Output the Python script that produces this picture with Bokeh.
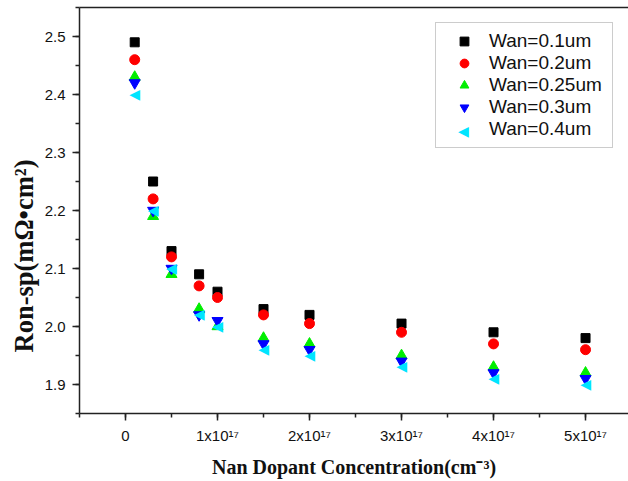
import math
from bokeh.plotting import figure
from bokeh.core.properties import value
from bokeh.models import (Range1d, SingleIntervalTicker, FixedTicker, LinearAxis, Title,
                          Legend, LegendItem, PrintfTickFormatter, Label)
from bokeh.embed import file_html
from bokeh.resources import INLINE

# Data
concentration = [1e16, 3e16, 5e16, 8e16, 1e17, 1.5e17, 2e17, 3e17, 4e17, 5e17]
series_names = ["Wan=0.1um", "Wan=0.2um", "Wan=0.25um", "Wan=0.3um", "Wan=0.4um"]
ron_01 = [2.49, 2.25, 2.13, 2.09, 2.06, 2.03, 2.02, 2.005, 1.99, 1.98]
ron_02 = [2.46, 2.22, 2.12, 2.07, 2.05, 2.02, 2.005, 1.99, 1.97, 1.96]
ron_025 = [2.43, 2.19, 2.09, 2.03, 2.00, 1.98, 1.97, 1.95, 1.93, 1.92]
ron_03 = [2.42, 2.20, 2.10, 2.02, 2.01, 1.97, 1.96, 1.94, 1.92, 1.91]
ron_04 = [2.40, 2.20, 2.10, 2.02, 2.00, 1.96, 1.95, 1.93, 1.91, 1.90]
x_tick_values = [0, 1e17, 2e17, 3e17, 4e17, 5e17]
x_tick_labels = ["0", "1x10¹⁷", "2x10¹⁷", "3x10¹⁷", "4x10¹⁷", "5x10¹⁷"]

p = figure(width=628, height=481, output_backend="svg", toolbar_location=None,
           x_range=Range1d(-0.5e17, 5.467e17), y_range=Range1d(1.85, 2.55),
           min_border_left=79, min_border_right=0, min_border_top=7, min_border_bottom=68,
           frame_width=549, frame_height=406)
p.outline_line_color = None
p.grid.visible = False
p.background_fill_color = "white"
p.border_fill_color = "white"

p.xaxis.ticker = SingleIntervalTicker(interval=1e17, num_minor_ticks=2)
p.xaxis.major_label_overrides = {v: l for v, l in zip(x_tick_values, x_tick_labels)}
p.yaxis.ticker = SingleIntervalTicker(interval=0.1, num_minor_ticks=2)
p.yaxis.formatter = PrintfTickFormatter(format="%.1f")

for ax in (p.xaxis[0], p.yaxis[0]):
    ax.axis_line_color = "#222222"
    ax.axis_line_width = 1.5
    ax.major_tick_line_color = "#222222"
    ax.minor_tick_line_color = "#222222"
    ax.major_tick_line_width = 1.5
    ax.minor_tick_line_width = 1.5
    ax.major_tick_out = 7
    ax.major_tick_in = 0
    ax.minor_tick_out = 4
    ax.minor_tick_in = 0
    ax.major_label_text_font = "Liberation Sans"
    ax.major_label_text_font_size = "15px"
    ax.major_label_text_color = "#111111"

p.xaxis.major_label_standoff = 6
p.yaxis.major_label_standoff = 7
p.xaxis.axis_label = "Nan Dopant Concentration(cm⁻³)"
p.xaxis.axis_label_text_font = "Liberation Serif"
p.xaxis.axis_label_text_font_style = "bold"
p.xaxis.axis_label_text_font_size = "20px"
p.xaxis.axis_label_text_color = "#111111"
p.xaxis.axis_label_standoff = 9

top_axis = LinearAxis(ticker=FixedTicker(ticks=[]), major_tick_line_color=None,
                      minor_tick_line_color=None, axis_line_color="#222222",
                      axis_line_width=1.5)
p.add_layout(top_axis, "above")

p.add_layout(Title(text="Ron-sp(mΩ•cm²)", align="left", offset=61,
                   text_font="Liberation Serif", text_font_style="bold",
                   text_font_size="26.5px", text_color="#111111", standoff=6), "left")

ys = [ron_01, ron_02, ron_025, ron_03]
markers = ["square", "circle", "triangle", "inverted_triangle"]
colors = ["#000000", "#ff0000", "#00ee00", "#0000ff"]
sizes = [9, 10, 11, 11]
items = []
for name, y, m, c, s in zip(series_names[:4], ys, markers, colors, sizes):
    r = p.scatter(x=concentration, y=y, marker=m, size=s, fill_color=c, line_color=c)
    items.append(LegendItem(label=name, renderers=[r]))

# left-pointing triangle series (rotated markers are not drawn rotated in SVG output)
cyan = "#00e5ff"
r4 = p.text(x=concentration, y=ron_04, text=value("◀"), text_font=value("DejaVu Sans"),
            text_font_size=value("14px"), text_color=cyan,
            text_align="center", text_baseline="middle", y_offset=-1)
items.append(LegendItem(label=series_names[4], renderers=[r4]))

legend = Legend(items=items, location=(356, 265), label_text_font="Liberation Sans",
                label_text_font_size="19px", label_text_color="#111111",
                glyph_width=42, glyph_height=22, label_height=22, label_width=116,
                label_standoff=4, spacing=0, padding=7, margin=0,
                background_fill_color=None,
                border_line_color="#999999", border_line_width=1)
p.add_layout(legend, "center")

# legend swatch for the left-pointing triangle series
p.add_layout(Label(x=384, y=283, x_units="screen", y_units="screen", text="◀",
                   text_font="DejaVu Sans", text_font_size="14px", text_color=cyan,
                   text_align="center", text_baseline="middle", level="overlay"))

open("out.html", "w").write(file_html(p, INLINE))
